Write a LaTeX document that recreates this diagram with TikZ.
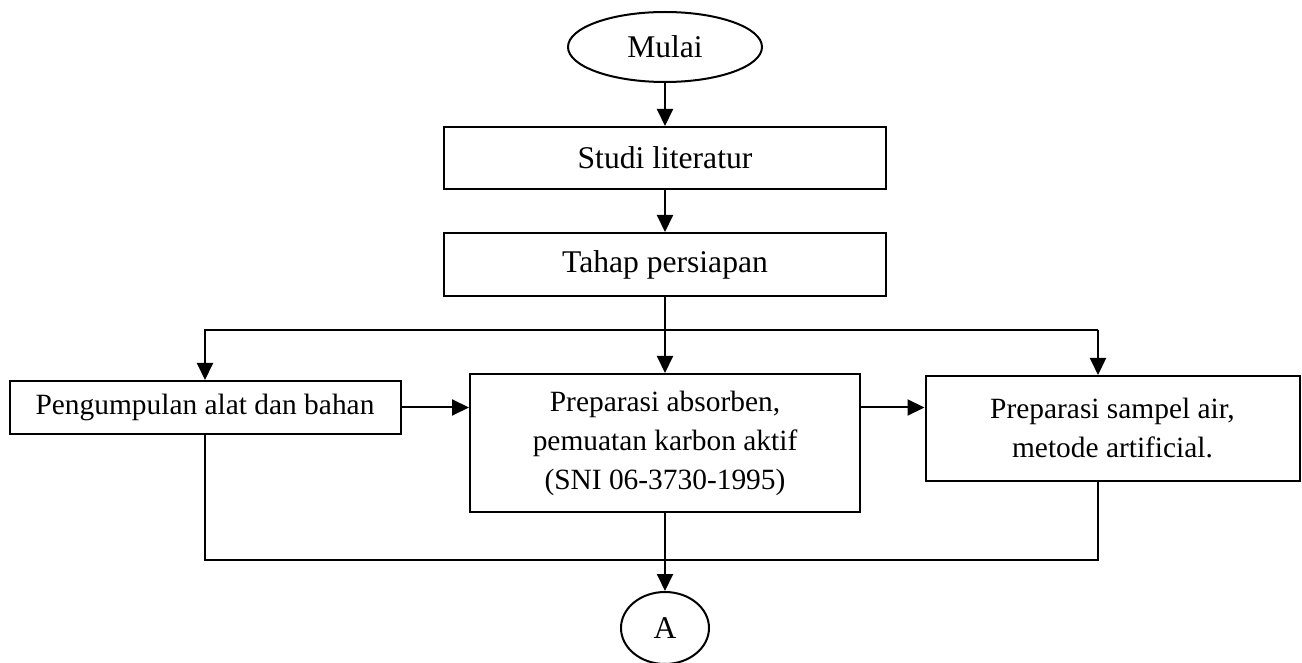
\documentclass[tikz,border=0pt]{standalone}
\usepackage{fontspec}
\setmainfont{Liberation Serif}
\usetikzlibrary{shapes,shapes.geometric,arrows.meta,positioning}

\begin{document}
\begin{tikzpicture}[
  x=0.5pt, y=-0.5pt,
  proses/.style={rectangle, draw=black, line width=1pt,
                 inner sep=0pt, align=center,
                 font=\fontsize{14.7pt}{19.5pt}\selectfont},
  besar/.style={font=\fontsize{15.8pt}{19.5pt}\selectfont},
  terminal/.style={ellipse, draw=black, line width=1pt,
                   inner sep=0pt, minimum width=97pt, minimum height=35pt,
                   font=\fontsize{15.8pt}{19.5pt}\selectfont},
  konektor/.style={ellipse, draw=black, line width=1pt,
                   inner sep=0pt, minimum width=44pt, minimum height=36pt,
                   font=\fontsize{15.8pt}{19.5pt}\selectfont},
  arrow/.style={-{Triangle[length=8.5pt,width=8pt]}, line width=1pt, black},
  line/.style={line width=1pt, black}
]
\useasboundingbox (0,0) rectangle (1302,663);

% Main column
\node[terminal]                                              (mulai)  at (665,47)    {Mulai};
\node[proses, besar, minimum width=221pt, minimum height=31pt]   (studi)  at (665,158)   {Studi literatur};
\node[proses, besar, minimum width=221pt, minimum height=31.5pt] (tahap)  at (665,264.5) {Tahap persiapan};
\node[proses, minimum width=195pt, minimum height=69pt]          (absorb) at (665,443)   {Preparasi absorben,\\pemuatan karbon aktif\\(SNI 06-3730-1995)};
\node[konektor]                                              (a)      at (665,628)   {A};

% Side boxes
\node[proses, minimum width=195.5pt, minimum height=26.5pt] (kumpul) at (205,407.5) {Pengumpulan alat dan bahan};
\node[proses, minimum width=187pt, minimum height=52.5pt]   (sampel) at (1112.5,428.5) {Preparasi sampel air,\\metode artificial.};

% Split and join points
\coordinate (split)  at (665,330);
\coordinate (splitR) at (1098,330);
\coordinate (join)   at (665,560);

% Main arrows
\draw[arrow] (mulai) -- (studi);
\draw[arrow] (studi) -- (tahap);
\draw[arrow] (tahap) -- (absorb);

% Branches
\draw[arrow] (split) -| (kumpul.north);
\draw[line]  (split) -- (splitR);
\draw[arrow] (splitR) -- (splitR |- sampel.north);
\draw[arrow] (kumpul.east) -- (kumpul -| absorb.west);
\draw[arrow] (kumpul -| absorb.east) -- (kumpul -| sampel.west);

% Join to connector A
\draw[line]  (kumpul.south) |- (join);
\draw[line]  (splitR |- sampel.south) |- (join);
\draw[arrow] (absorb) -- (a);

\end{tikzpicture}
\end{document}
